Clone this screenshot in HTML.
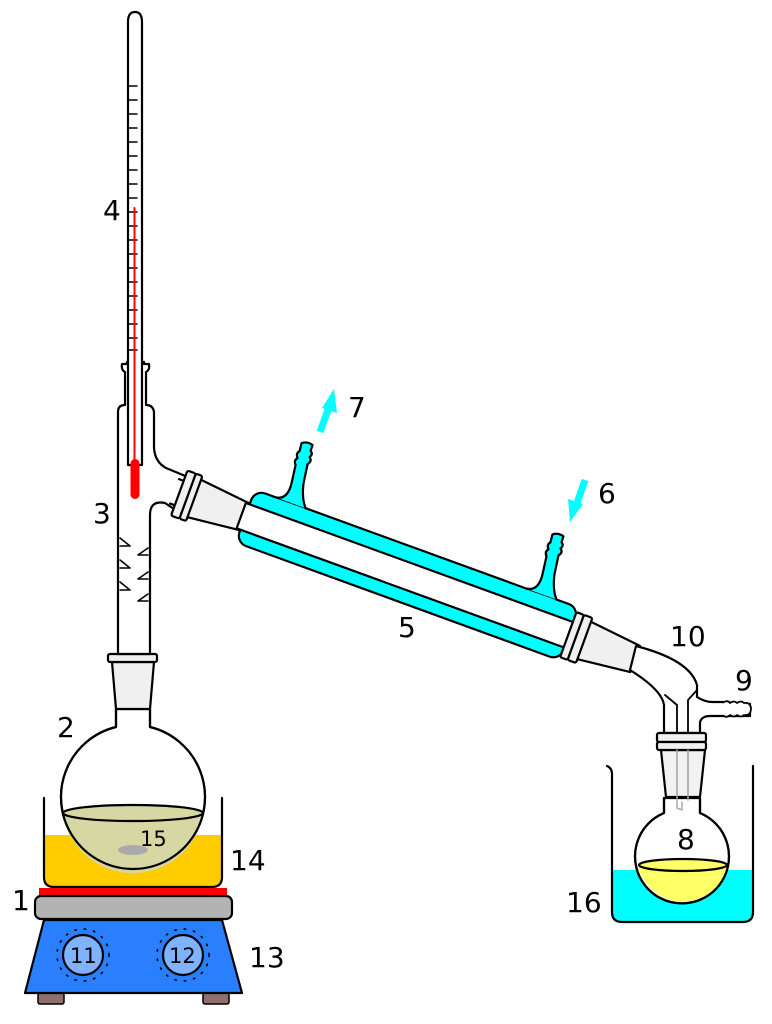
<!DOCTYPE html>
<html><head><meta charset="utf-8"><style>html,body{margin:0;padding:0;background:#fff}svg{display:block}text{font-family:"DejaVu Sans","Liberation Sans",sans-serif;fill:#000}</style></head>
<body>
<svg width="772" height="1024" viewBox="0 0 772 1024" xmlns="http://www.w3.org/2000/svg">
<g stroke="#000" stroke-width="2.2" stroke-linejoin="round" stroke-linecap="round">
<!-- bath 14 -->
<path d="M45 835 H221 V877 Q221 886 212 886 H54 Q45 886 45 877 Z" fill="#ffcc00" stroke="none"/>
<path d="M44 798 V877 Q44 887 54 887 H212 Q222 887 222 877 V798" fill="none"/>
<!-- flask 2 -->
<path d="M116 709 V727 A72 72 0 1 0 150 727 V709 Z" fill="#fff"/>
<path d="M62 810 A71.5 71.5 0 0 0 204 810 Z" fill="#d6d7a3" stroke="none"/>
<path d="M116 709 V727 A72 72 0 1 0 150 727 V709" fill="none"/>
<ellipse cx="133" cy="813" rx="70" ry="8" fill="#d6d7a3"/>
<ellipse cx="133" cy="850" rx="15" ry="5" fill="#aaa" stroke="none"/>
<!-- joint bottom of still head -->
<path d="M112 662 L116 709 H150 L154 662 Z" fill="#f0f0f0"/>
<rect x="108" y="654" width="49" height="8" rx="2" fill="#f0f0f0"/>
<!-- still head -->
<path d="M118 654 V412 Q118 405 125 405 V372 Q121 370 122 364 H127 V362 H144 V364 H149 Q150 370 146 372 V405 Q153 405 154 412 V448 Q155 462 166 468 L195 480 L183 515 L165 503 Q150 500 150 515 V654 Z" fill="#fff"/>
<path d="M120 538 L130 546 H120 M120 560 L130 568 H120 M120 582 L130 590 H120 M148 548 L138 555 H148 M148 572 L138 579 H148 M148 594 L138 601 H148" fill="none" stroke-width="1.6"/>
<!-- thermometer -->
<path d="M128 465 V22 Q128 12 135 12 Q142 12 142 22 V465 Z" fill="#fff"/>
<path d="M128 86 H137 M128 100 H137 M128 114 H137 M128 128 H137 M128 142 H137 M128 156 H137 M128 170 H137 M128 184 H137 M128 198 H137 M128 212 H137 M128 226 H137 M128 240 H137 M128 254 H137 M128 268 H137 M128 282 H137 M128 296 H137 M128 310 H137 M128 324 H137 M128 338 H137 M128 350 H137" stroke-width="1.5"/>
<path d="M134.5 208 V462" stroke="#f00" stroke-width="2"/>
<rect x="130.5" y="459" width="9" height="40" rx="4.5" fill="#f00" stroke="none"/>
<!-- condenser in rotated frame -->
<g transform="translate(245,517) rotate(20)">
<path d="M-75 -13 H10 M-75 13 H10" fill="none"/>
<path d="M-55 -20 L2 -14 V14 L-55 20 Z" fill="#f0f0f0"/>
<rect x="-70" y="-24" width="9" height="48" rx="2" fill="#f0f0f0"/>
<rect x="-61" y="-24" width="7" height="48" rx="2" fill="#f0f0f0"/>
<rect x="0" y="-29" width="345" height="56" rx="11" fill="#00ffff"/>
<rect x="-4" y="-13.5" width="355" height="27" fill="#fff"/>
<path d="M360 -20 L415 -14 V14 L360 20 Z" fill="#f0f0f0"/>
<rect x="344" y="-24" width="8" height="48" rx="2" fill="#f0f0f0"/>
<rect x="352" y="-24" width="9" height="48" rx="2" fill="#f0f0f0"/>
<g transform="translate(39,-29) rotate(-20)">
<path d="M-16 -5.8 Q-4 -3 0 -20 L4 -38 Q2 -43 6 -45 Q4 -50 8 -52 L10 -60 Q16 -62 21 -58 L19 -52 Q22 -49 18 -46 Q21 -42 16 -39 L12 -20 Q10 -5 14 5.1" fill="#00ffff"/>
<path d="M-15 -4.5 L13 5.5 L13 12 L-15 3 Z" fill="#00ffff" stroke="none"/>
</g>
<g transform="translate(306,-29) rotate(-20)">
<path d="M-16 -5.8 Q-4 -3 0 -20 L4 -38 Q2 -43 6 -45 Q4 -50 8 -52 L10 -60 Q16 -62 21 -58 L19 -52 Q22 -49 18 -46 Q21 -42 16 -39 L12 -20 Q10 -5 14 5.1" fill="#00ffff"/>
<path d="M-15 -4.5 L13 5.5 L13 12 L-15 3 Z" fill="#00ffff" stroke="none"/>
</g>
</g>
<!-- adapter -->
<path d="M636 646 Q690 660 697 685 V697 Q705 702 712 702 H722 L750 704 V716 L722 716 H710 Q702 716 700 722 V733 H664 V705 Q662 690 630 670 Z" fill="#fff"/>
<path d="M697 690 L688 700 V808 L682 802 H677 V705 L665 695" fill="none" stroke-width="1.8"/>
<path d="M724 702 Q728 700 730 703 Q734 700 737 703 Q741 700 744 703 Q750 702 751 708 Q751 716 744 715 Q741 718 737 715 Q734 718 730 715 Q727 718 724 716" fill="#fff" stroke-width="1.8"/>
<!-- beaker 16 -->
<path d="M613 870 H752 V912 Q752 921 743 921 H622 Q613 921 613 912 Z" fill="#00ffff" stroke="none"/>
<path d="M607 766 Q612 768 612 774 V912 Q612 922 622 922 H743 Q753 922 753 912 V766" fill="none"/>
<!-- flask 8 -->
<path d="M664 798 V813 A47 47 0 1 0 700 813 V798 Z" fill="#fff"/>
<path d="M638 865 A46 46 0 0 0 728 865 Z" fill="#ffff66" stroke="none"/>
<path d="M664 798 V813 A47 47 0 1 0 700 813 V798" fill="none"/>
<ellipse cx="683" cy="865" rx="44" ry="6" fill="#ffff66"/>
<!-- receiver joint -->
<path d="M661 750 L666 797 H700 L705 750 Z" fill="#f0f0f0" fill-opacity="0.85"/>
<rect x="657" y="733" width="49" height="9" rx="2" fill="#f0f0f0"/>
<rect x="657" y="742" width="49" height="8" rx="2" fill="#f0f0f0"/>
<path d="M677 750 V808 L682 810 V802 M688 750 V800" stroke="#aaa" stroke-width="1.5" fill="none"/>
<!-- hot plate -->
<rect x="39" y="888" width="188" height="8" fill="#f00" stroke="none"/>
<rect x="35" y="896" width="197" height="23" rx="6" fill="#b3b3b3"/>
<rect x="38" y="993" width="26" height="11" rx="2" fill="#916f6f" stroke-width="1.5"/>
<rect x="203" y="993" width="26" height="11" rx="2" fill="#916f6f" stroke-width="1.5"/>
<path d="M44 920 H222 L242 993 H25 Z" fill="#2a7fff"/>
<circle cx="83" cy="955" r="20" fill="#80b3ff"/>
<circle cx="183" cy="955" r="20" fill="#80b3ff"/>
<circle cx="83" cy="955" r="26" fill="none" stroke-width="1.6" stroke-dasharray="1.5 8"/>
<circle cx="183" cy="955" r="26" fill="none" stroke-width="1.6" stroke-dasharray="1.5 8"/>
</g>
<!-- arrows -->
<path d="M320 432 L330 404" stroke="#00ffff" stroke-width="7"/>
<path d="M334 389 L337 413 L322 408 Z" fill="#00ffff"/>
<path d="M585 480 L576 506" stroke="#00ffff" stroke-width="7"/>
<path d="M570 522 L568 499 L583 504 Z" fill="#00ffff"/>
<!-- labels -->
<g font-size="28">
<text x="103" y="220">4</text>
<text x="93" y="523">3</text>
<text x="57" y="737">2</text>
<text x="230" y="870">14</text>
<text x="12" y="910">1</text>
<text x="249" y="967">13</text>
<text x="398" y="637">5</text>
<text x="348" y="417">7</text>
<text x="598" y="503">6</text>
<text x="670" y="646">10</text>
<text x="735" y="690">9</text>
<text x="677" y="849">8</text>
<text x="566" y="912">16</text>
</g>
<g font-size="21">
<text x="140" y="846">15</text>
<text x="70" y="963">11</text>
<text x="169" y="963">12</text>
</g>
</svg>
</body></html>
